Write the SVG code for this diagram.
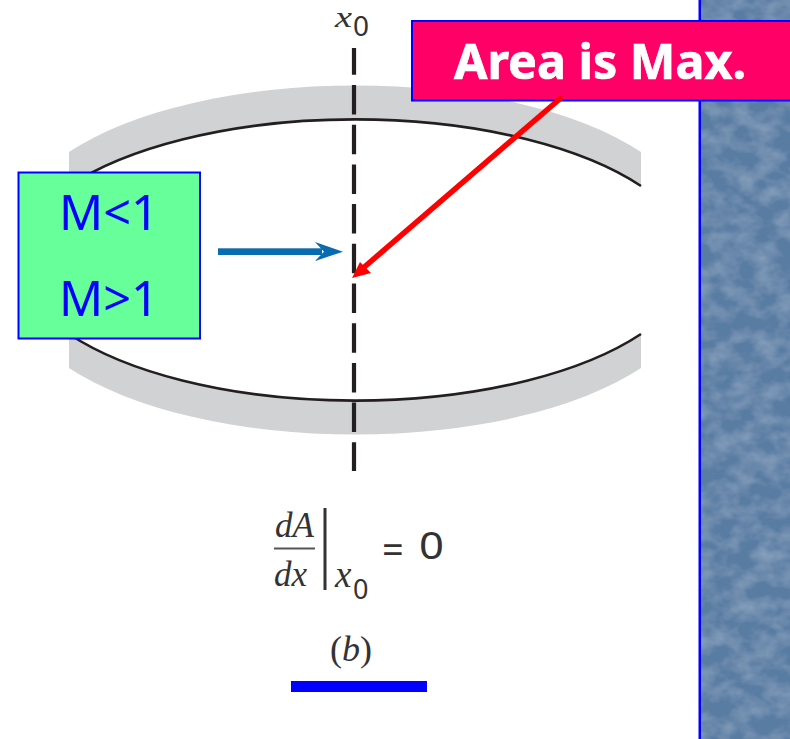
<svg xmlns="http://www.w3.org/2000/svg" width="790" height="739" viewBox="0 0 790 739">
<style>
.band{fill:#d1d2d4}
.wall{fill:none;stroke:#231f20;stroke-width:2.6}
.box{stroke:#0000ff;stroke-width:2}
.ml{font-family:"Noto Sans",sans-serif;font-size:50px;fill:#0000ff}
.it{font-family:"Liberation Serif",serif;font-style:italic;fill:#333}
.rm{font-family:"Liberation Serif",serif;fill:#333}
.sub{font-family:"Noto Sans",sans-serif;fill:#333}
</style>
<defs>
<filter id="tex" x="0" y="0" width="100%" height="100%">
<feTurbulence type="fractalNoise" baseFrequency="0.045 0.06" numOctaves="3" seed="7"/>
<feColorMatrix values="0 0 0 0 0.45  0 0 0 0 0.57  0 0 0 0 0.72  0.7 0 0 0 -0.24"/>
<feComposite in2="SourceGraphic" operator="in" result="n"/>
<feMerge><feMergeNode in="SourceGraphic"/><feMergeNode in="n"/></feMerge>
</filter>
</defs>
<rect width="790" height="739" fill="#fff"/>
<g id="sidebar">
<rect x="700" y="0" width="90" height="739" fill="#597ba2" filter="url(#tex)"/>
<rect x="698.5" y="0" width="2.5" height="739" fill="#0000ff"/>
</g>
<g id="nozzle">
<path class="band" d="M69 152A340 145 0 0 1 641 152V186A340 145 0 0 0 69 186Z"/>
<path class="band" d="M69 368A340 145 0 0 0 641 368V334A340 145 0 0 1 69 334Z"/>
<path class="wall" d="M69 186A340 145 0 0 1 641 186"/>
<path class="wall" d="M69 334A340 145 0 0 0 641 334"/>
</g>
<g id="x0-label">
<text class="it" x="335" y="27" font-size="30" textLength="17" lengthAdjust="spacingAndGlyphs">x</text>
<text class="sub" x="353" y="36" font-size="28">0</text>
</g>
<g id="mach-box">
<rect class="box" x="18.500" y="172.500" width="181.500" height="166" fill="#66ff99"/>
<text class="ml" x="59" y="230" textLength="100" lengthAdjust="spacingAndGlyphs">M&lt;1</text>
<text class="ml" x="59" y="315.500" textLength="100" lengthAdjust="spacingAndGlyphs">M&gt;1</text>
</g>
<g id="area-box">
<rect class="box" x="412" y="21" width="379" height="79.500" fill="#ff0066"/>
<text x="454" y="79" font-family="Noto Sans,sans-serif" font-weight="700" font-size="49" fill="#fff" stroke="#fff" stroke-width="0.7" textLength="292" lengthAdjust="spacingAndGlyphs">Area is Max.</text>
</g>
<g id="connectors">
<line x1="354" y1="48" x2="354" y2="471" stroke="#231f20" stroke-width="4.2" stroke-dasharray="29.5 10.2" stroke-dashoffset="2.7"/>
<rect x="218" y="248.300" width="104" height="6.700" fill="#0a6cb0"/>
<path d="M343 251.700L315 242L324 251.700L315 261Z" fill="#0a6cb0"/>
<line x1="562" y1="97" x2="362" y2="269" stroke="#ff0000" stroke-width="5.500"/>
<path d="M352 278L371 273L360 262Z" fill="#ff0000"/>
</g>
<g id="equation">
<text class="it" x="275" y="537" font-size="35">dA</text>
<rect x="274" y="547.500" width="41" height="2" fill="#555"/>
<text class="it" x="274" y="586" font-size="35">dx</text>
<rect x="323.500" y="508" width="3" height="82" fill="#333"/>
<text class="it" x="335" y="587" font-size="37">x</text>
<text class="sub" x="353" y="599" font-size="27">0</text>
<text class="sub" x="382" y="563" font-size="38">=</text>
<text class="sub" x="419" y="559" font-size="38" textLength="25" lengthAdjust="spacingAndGlyphs">0</text>
<text class="rm" x="330" y="661" font-size="36">(<tspan font-style="italic">b</tspan>)</text>
</g>
<rect id="blue-bar" x="291" y="681" width="136" height="11" fill="#0000ff"/>
</svg>
